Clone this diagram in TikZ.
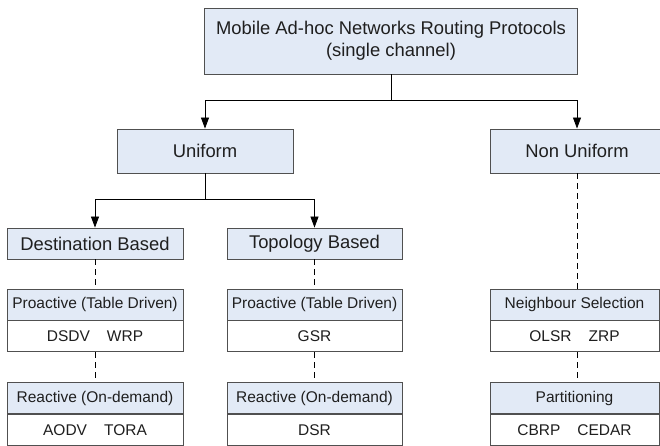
\documentclass[tikz,border=0pt]{standalone}
\usepackage{fontspec}
\setmainfont{Liberation Sans}
\usetikzlibrary{arrows.meta}
\usetikzlibrary{positioning}

\definecolor{boxblue}{RGB}{226,234,246}
\definecolor{boxline}{RGB}{80,80,80}

\begin{document}
\begin{tikzpicture}[x=1pt,y=1pt,yscale=-1,xscale=1,
  box/.style={draw=boxline, line width=0.9pt, fill=boxblue, inner sep=0pt, text=black!88},
  bigtext/.style={font=\fontsize{18.4pt}{22pt}\selectfont},
  smalltext/.style={font=\fontsize{15.5pt}{18pt}\selectfont},
  hdr/.style={box, smalltext, minimum height=31pt},
  setrow/.style={box, smalltext, fill=white, minimum height=31pt},
  arr/.style={-{Triangle[length=11pt,width=8pt]}, line width=0.8pt},
  dashlink/.style={line width=0.8pt, dash pattern=on 6pt off 4pt}]
\useasboundingbox (0,0) rectangle (660,445);

% top level
\node[box, bigtext, align=center, minimum width=373pt, minimum height=66pt] (root) at (391,41)
  {Mobile Ad-hoc Networks Routing Protocols\\(single channel)};

% second level
\node[box, bigtext, minimum width=176pt, minimum height=44pt] (uniform) at (205,151) {Uniform};
\node[box, bigtext, minimum width=174pt, minimum height=44pt] (nonuni) at (577,151) {Non Uniform};

% third level
\node[box, bigtext, minimum width=176pt, minimum height=31pt] (dest) at (95,243.5) {Destination Based};
\node[box, bigtext, minimum width=175pt, minimum height=31pt] (topo) at (314.5,243.5) {Topology Based};

% destination based families
\node[hdr, minimum width=176pt] (dpro) at (95,304.5) {Proactive (Table Driven)};
\node[setrow, minimum width=176pt, below=0pt of dpro] (dproset) {DSDV\hspace{1.1em}WRP};
\node[hdr, minimum width=176pt] (dre) at (95,398) {Reactive (On-demand)};
\node[setrow, minimum width=176pt, below=0pt of dre] (dreset) {AODV\hspace{1.1em}TORA};

% topology based families
\node[hdr, minimum width=175pt] (tpro) at (314.5,304.5) {Proactive (Table Driven)};
\node[setrow, minimum width=175pt, below=0pt of tpro] (tproset) {GSR};
\node[hdr, minimum width=175pt] (tre) at (314.5,398) {Reactive (On-demand)};
\node[setrow, minimum width=175pt, below=0pt of tre] (treset) {DSR};

% non uniform families
\node[hdr, minimum width=169pt] (nsel) at (574.5,304.5) {Neighbour Selection};
\node[setrow, minimum width=169pt, below=0pt of nsel] (nselset) {OLSR\hspace{1.1em}ZRP};
\node[hdr, minimum width=169pt] (part) at (574.5,398) {Partitioning};
\node[setrow, minimum width=169pt, below=0pt of part] (partset) {CBRP\hspace{1.1em}CEDAR};

% solid tree links
\coordinate (rsplit) at (391,100);
\coordinate (usplit) at (205,199);
\draw[line width=0.8pt] (root.south) -- (rsplit);
\draw[arr] (rsplit) -| (uniform.north);
\draw[arr] (rsplit) -| (nonuni.north);
\draw[line width=0.8pt] (uniform.south) -- (usplit);
\draw[arr] (usplit) -| (dest.north);
\draw[arr] (usplit) -| (topo.north);

% dashed links
\draw[dashlink] (dest.south) -- (dpro.north);
\draw[dashlink] (dproset.south) -- (dre.north);
\draw[dashlink] (topo.south) -- (tpro.north);
\draw[dashlink] (tproset.south) -- (tre.north);
\draw[dashlink] (nonuni.south) -- (nonuni.south |- nsel.north);
\draw[dashlink] (nonuni.south |- nselset.south) -- (nonuni.south |- part.north);

\end{tikzpicture}
\end{document}
